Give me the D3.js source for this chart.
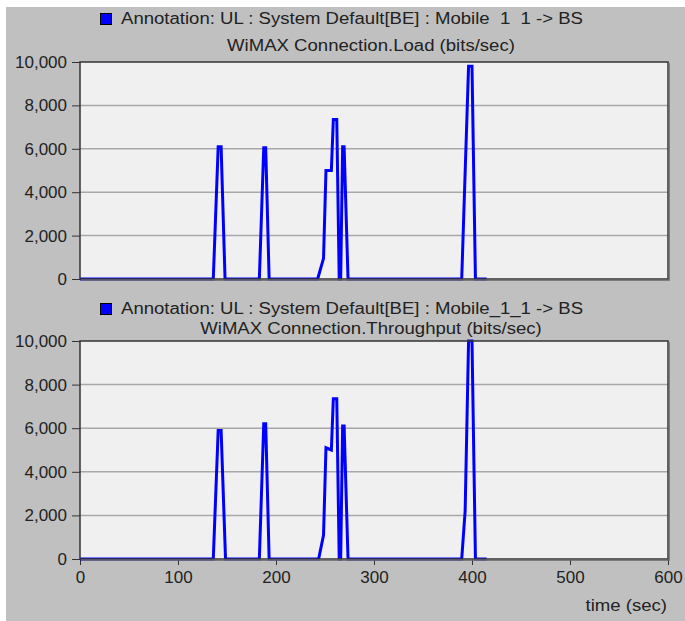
<!DOCTYPE html>
<html>
<head>
<meta charset="utf-8">
<script src="https://cdn.jsdelivr.net/npm/d3@7"></script>
<style>
  body { margin: 0; background: #fff; }
  text { font-family: "Liberation Sans", Arial, sans-serif; fill: #222; white-space: pre; }
</style>
</head>
<body>
<svg id="chart" width="685" height="621"></svg>
<script>
// time (sec) and value (bits/sec) pairs
const loadTimes = [0, 136, 141, 144, 148, 183, 187.5, 189.5, 193, 242.5, 248.5, 251, 256.5, 258.5, 262, 264.5, 266, 268, 269.5, 273.5, 389.5, 396.5, 400, 403.5, 415];
const loadValues = [0, 0, 6100, 6100, 0, 0, 6050, 6050, 0, 0, 950, 5000, 5000, 7350, 7350, 0, 0, 6100, 6100, 0, 0, 9800, 9800, 0, 0];

const tputTimes = [0, 136, 141, 144, 148.5, 183, 187.5, 189.5, 193, 243.5, 248.5, 251, 256.5, 258.5, 262, 264.5, 266, 268, 269.5, 273.5, 389.5, 393, 396.5, 400, 403.5, 415];
const tputValues = [0, 0, 5900, 5900, 0, 0, 6200, 6200, 0, 0, 1100, 5100, 5000, 7350, 7350, 0, 0, 6100, 6100, 0, 0, 2200, 10000, 10000, 0, 0];

const yTicks = [0, 2000, 4000, 6000, 8000, 10000];
const xTicks = [0, 100, 200, 300, 400, 500, 600];

const legendLabels = ['Annotation: UL : System Default[BE] : Mobile  1  1 -> BS',
                      'Annotation: UL : System Default[BE] : Mobile_1_1 -> BS'];
const panelTitles = ['WiMAX Connection.Load (bits/sec)', 'WiMAX Connection.Throughput (bits/sec)'];
const xLabel = 'time (sec)';

const svg = d3.select('#chart');

// the original font is wider than Liberation Sans at the same height
const widen = sel => sel.each(function () {
  const w = this.getComputedTextLength();
  d3.select(this).attr('textLength', w * 1.16).attr('lengthAdjust', 'spacingAndGlyphs');
});

svg.append('rect')
  .attr('x', 6).attr('y', 7)
  .attr('width', 679).attr('height', 614)
  .attr('fill', '#c0c0c0');

const x = d3.scaleLinear().domain([0, 600]).range([80, 668]);

const panels = [
  { top: 62, bottom: 279, times: loadTimes, values: loadValues, legendY: 13, titleY: 51 },
  { top: 341, bottom: 559, times: tputTimes, values: tputValues, legendY: 303, titleY: 334 }
];

panels.forEach((p, i) => {
  const y = d3.scaleLinear().domain([0, 10000]).range([p.bottom, p.top]);
  const g = svg.append('g');

  // legend
  g.append('rect')
    .attr('x', 100.5).attr('y', p.legendY + 0.5)
    .attr('width', 11).attr('height', 11)
    .attr('fill', '#0000ff').attr('stroke', '#000');
  g.append('text')
    .attr('x', 121).attr('y', p.legendY + 11)
    .attr('font-size', 16)
    .text(legendLabels[i])
    .call(widen);

  g.append('text')
    .attr('x', (x(0) + x(600)) / 2 - 3).attr('y', p.titleY)
    .attr('text-anchor', 'middle')
    .attr('font-size', 16)
    .text(panelTitles[i])
    .call(widen);

  // plot area
  g.append('rect')
    .attr('x', x(0)).attr('y', p.top)
    .attr('width', x(600) - x(0)).attr('height', p.bottom - p.top)
    .attr('fill', '#f0f0f0');

  g.selectAll('line.grid')
    .data(yTicks.slice(1, -1))
    .enter().append('line')
    .attr('class', 'grid')
    .attr('x1', x(0)).attr('x2', x(600))
    .attr('y1', d => y(d)).attr('y2', d => y(d))
    .attr('stroke', '#a8a8a8').attr('stroke-width', 1.5);

  const yAxis = d3.axisLeft(y).tickValues(yTicks).tickSize(8).tickFormat(d3.format(','));
  const ya = g.append('g')
    .attr('transform', 'translate(' + x(0) + ',0)')
    .call(yAxis);
  ya.select('.domain').remove();
  ya.selectAll('line').attr('stroke', '#333');
  ya.selectAll('text').attr('font-size', 17).attr('dx', -2).style('fill', '#222');

  if (i === 1) {
    const xAxis = d3.axisBottom(x).tickValues(xTicks).tickSize(6).tickFormat(d3.format('d'));
    const xa = g.append('g')
      .attr('transform', 'translate(0,' + p.bottom + ')')
      .call(xAxis);
    xa.select('.domain').remove();
    xa.selectAll('line').attr('stroke', '#333');
    xa.selectAll('text').attr('font-size', 17).attr('dy', '0.9em').style('fill', '#222');
  }

  const line = d3.line()
    .x((d, k) => x(p.times[k]))
    .y(d => y(d));
  g.append('path')
    .datum(p.values)
    .attr('d', line)
    .attr('fill', 'none')
    .attr('stroke', '#0000ff')
    .attr('stroke-width', 3)
    .attr('stroke-linejoin', 'miter');

  // frame
  g.append('rect')
    .attr('x', x(0)).attr('y', p.top)
    .attr('width', x(600) - x(0)).attr('height', p.bottom - p.top)
    .attr('fill', 'none')
    .attr('stroke', '#333').attr('stroke-width', 1.5);
  g.append('path')
    .attr('d', 'M' + (x(600) + 1) + ',' + (p.top + 1) + 'V' + (p.bottom + 1) + 'H' + (x(0) + 1))
    .attr('fill', 'none').attr('stroke', '#666').attr('stroke-width', 1.5);
});

svg.append('text')
  .attr('x', 667).attr('y', 611)
  .attr('text-anchor', 'end')
  .attr('font-size', 16)
  .text(xLabel)
  .call(widen);
</script>
</body>
</html>
